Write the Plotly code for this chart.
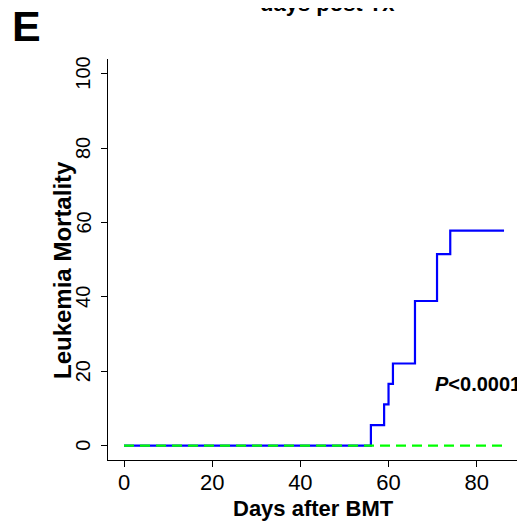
import plotly.graph_objects as go

# Data
treat_days = [0, 56, 56, 59, 59, 60, 60, 61, 61, 66, 66, 71, 71, 74, 74, 86.2]
treat_mort = [0, 0, 5.56, 5.56, 11.1, 11.1, 16.6, 16.6, 22.1, 22.1, 38.9, 38.9, 51.5, 51.5, 57.8, 57.8]
ctrl_days = [0, 86.5]
ctrl_mort = [0, 0]

x_ticks = [0, 20, 40, 60, 80]
y_ticks = [0, 20, 40, 60, 80, 100]
y_tick_labels = [str(v) for v in y_ticks]

FONT = "Arial, Liberation Sans, Helvetica, sans-serif"

# page body has an 8px margin, so the figure is 8px smaller and shifted
W, H = 517, 515
L, T, R, B = 100, 51, 2, 63
PW = W - L - R
PH = H - T - B


def px(xf):
    return (xf - L) / PW


def py(yf):
    return (T + PH - yf) / PH


fig = go.Figure()
fig.add_trace(go.Scatter(x=treat_days, y=treat_mort, mode="lines",
                         line=dict(color="#0000FF", width=2.2), showlegend=False,
                         hoverinfo="skip"))
fig.add_trace(go.Scatter(x=ctrl_days, y=ctrl_mort, mode="lines",
                         line=dict(color="#00FF00", width=2.2, dash="10px,6px"),
                         showlegend=False, hoverinfo="skip"))

annotations = [
    dict(text="<b>E</b>", xref="paper", yref="paper", x=px(2), y=py(-8),
         xanchor="left", yanchor="top", showarrow=False,
         font=dict(size=43, family=FONT, color="black")),
    dict(text="<b>days post Tx</b>", xref="paper", yref="paper", x=px(319),
         y=py(10), xanchor="center", yanchor="bottom", showarrow=False,
         font=dict(size=22, family=FONT, color="black")),
    dict(text="<b>Days after BMT</b>", xref="paper", yref="paper", x=px(305),
         y=py(500), xanchor="center", yanchor="middle", showarrow=False,
         font=dict(size=22, family=FONT, color="black")),
    dict(text="<b>Leukemia Mortality</b>", xref="paper", yref="paper", x=px(54),
         y=py(262), xanchor="center", yanchor="middle", textangle=-90,
         showarrow=False, font=dict(size=24, family=FONT, color="black")),
    dict(text="<b><i>P</i>&lt;0.0001</b>", xref="x", yref="y", x=90.4, y=16.7,
         xanchor="right", yanchor="middle", showarrow=False,
         font=dict(size=20, family=FONT, color="black")),
]
# y tick labels, placed on the y axis scale
for v, lab in zip(y_ticks, y_tick_labels):
    annotations.append(dict(text=lab, xref="paper", yref="y", x=px(75), y=v,
                            xanchor="center", yanchor="middle", textangle=-90,
                            showarrow=False,
                            font=dict(size=20, family=FONT, color="black")))

fig.update_layout(
    width=W, height=H,
    margin=dict(l=L, r=R, t=T, b=B),
    paper_bgcolor="white", plot_bgcolor="white",
    font=dict(family=FONT, color="black"),
    xaxis=dict(range=[-3.63, 90.5], tickvals=x_ticks, ticks="outside", ticklen=6,
               tickwidth=1, tickcolor="black", showline=True, linecolor="black",
               linewidth=1, showgrid=False, zeroline=False, ticklabelstandoff=-3,
               tickfont=dict(size=22, family=FONT, color="black")),
    yaxis=dict(range=[-3.84, 103.95], tickvals=y_ticks, ticks="outside", ticklen=6,
               tickwidth=1, tickcolor="black", showline=True, linecolor="black",
               linewidth=1, showgrid=False, zeroline=False, showticklabels=False),
    annotations=annotations,
)

fig.write_html("out.html")
